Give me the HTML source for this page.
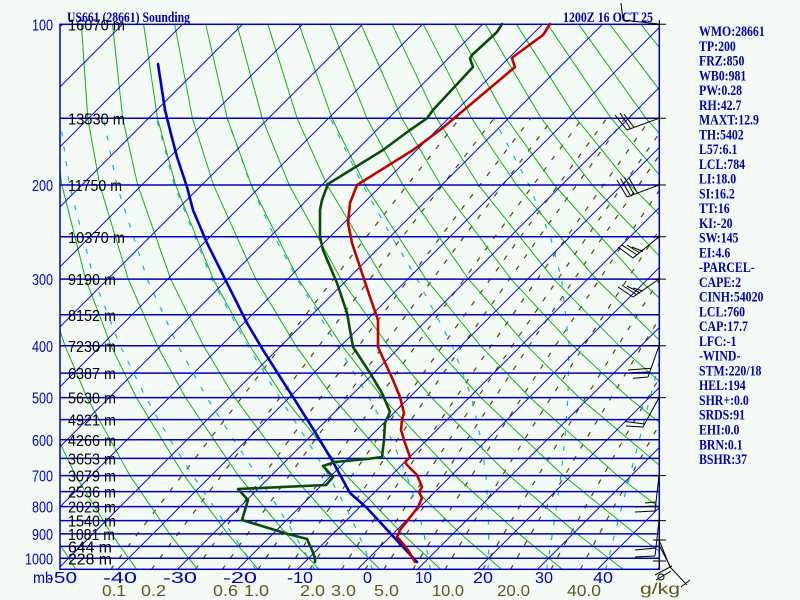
<!DOCTYPE html>
<html><head><meta charset="utf-8">
<style>
html,body{margin:0;padding:0;background:#f4fbf7;}
svg{display:block;}
text{font-family:"Liberation Sans",sans-serif;}
.r{font-family:"Liberation Serif",serif;font-weight:bold;font-size:15px;fill:#0000b0;}
.h{font-family:"Liberation Serif",serif;font-weight:bold;font-size:15px;fill:#0000b0;}
.pl{font-size:16px;fill:#0000c0;}
.hl{font-size:16px;fill:#000;}
.ol{font-size:16px;fill:#5e5618;}
</style></head><body>
<svg width="800" height="600" viewBox="0 0 800 600" xmlns="http://www.w3.org/2000/svg">
<defs><clipPath id="c"><rect x="60" y="24.3" width="599.3" height="545"/></clipPath></defs>
<rect width="800" height="600" fill="#f4fbf7"/>
<g clip-path="url(#c)" fill="none">
 <!-- mixing ratio lines -->
 <g stroke="#4e460c" stroke-width="1.2" stroke-dasharray="5 9">
  <polyline points="110.5,569.6 158.2,506.6 209.2,439.8 281.6,345.8 366.5,236.8 460.0,118.3"/>
  <polyline points="151.4,569.6 198.1,506.6 248.0,439.8 319.0,345.8 402.4,236.8 494.2,118.3"/>
  <polyline points="195.2,569.6 240.7,506.6 289.4,439.8 358.8,345.8 440.5,236.8 530.7,118.3"/>
  <polyline points="222.2,569.6 267.0,506.6 315.0,439.8 383.4,345.8 464.0,236.8 553.0,118.3"/>
  <polyline points="257.9,569.6 301.7,506.6 348.7,439.8 415.8,345.8 494.9,236.8 582.5,118.3"/>
  <polyline points="287.6,569.6 330.5,506.6 376.7,439.8 442.6,345.8 520.5,236.8 606.8,118.3"/>
  <polyline points="309.5,569.6 351.7,506.6 397.3,439.8 462.4,345.8 539.3,236.8 624.7,118.3"/>
  <polyline points="341.4,569.6 382.8,506.6 427.3,439.8 491.1,345.8 566.8,236.8 650.8,118.3"/>
  <polyline points="365.0,569.6 405.6,506.6 449.4,439.8 512.3,345.8 586.9,236.8 669.9,118.3"/>
  <polyline points="383.7,569.6 423.8,506.6 467.0,439.8 529.1,345.8 602.9,236.8 685.0,118.3"/>
  <polyline points="412.8,569.6 452.0,506.6 494.4,439.8 555.3,345.8 627.7,236.8 708.5,118.3"/>
  <polyline points="444.8,569.6 483.0,506.6 524.3,439.8 583.9,345.8 654.9,236.8 734.3,118.3"/>
  <polyline points="482.7,569.6 519.6,506.6 559.7,439.8 617.7,345.8 686.9,236.8"/>
  <polyline points="510.4,569.6 546.5,506.6 585.7,439.8 642.4,345.8 710.3,236.8"/>
  <polyline points="550.8,569.6 585.5,506.6 623.3,439.8 678.2,345.8"/>
  <polyline points="580.2,569.6 613.9,506.6 650.7,439.8 704.3,345.8"/>
 </g>
 <!-- moist adiabats -->
 <g stroke="#10b4d0" stroke-width="1.2" stroke-dasharray="5 10">
  <polyline points="255.9,569.6 248.5,558.3 232.3,533.9 213.6,506.6 192.9,475.6 170.2,439.8 145.8,397.6 120.2,345.8 93.9,279.1 69.4,185 59.8,118.3"/>
  <polyline points="314.5,569.6 308.5,558.3 294.0,533.9 277.4,506.6 257.2,475.6 233.7,439.8 206.9,397.6 177.9,345.8 147.2,279.1 116.8,185 103.5,118.3"/>
  <polyline points="372.4,569.6 368.5,558.3 358.6,533.9 345.7,506.6 328.7,475.6 306.8,439.8 279.6,397.6 247.6,345.8 211.7,279.1 174.4,185 156.5,118.3"/>
  <polyline points="430.2,569.6 428.5,558.3 423.9,533.9 417.0,506.6 406.9,475.6 391.7,439.8 369.0,397.6 337.6,345.8 297.2,279.1 274.5,236.8 250.9,185 227.1,118.3"/>
  <polyline points="488.0,569.6 488.5,558.3 488.7,533.9 488.0,506.6 486.0,475.6 481.0,439.8 471.6,397.6 452.3,345.8 417.0,279.1 391.8,236.8 362.6,185 330.3,118.3"/>
  <polyline points="546.6,569.6 548.5,558.3 552.3,533.9 556.5,506.6 560.9,475.6 564.8,439.8 567.9,397.6 569.0,345.8 561.6,279.1 550.3,236.8 529.1,185 493.6,118.3"/>
  <polyline points="605.6,569.6 608.5,558.3 614.7,533.9 621.8,506.6 629.9,475.6 639.3,439.8 650.2,397.6 663.4,345.8 678.7,279.1"/>
 </g>
 <!-- dry adiabats -->
 <g stroke="#12b012" stroke-width="1">
  <polyline points="76.0,569.6 53.2,533.9 21.5,475.6"/>
  <polyline points="136.8,569.6 111.4,533.9 75.7,475.6 37.8,397.6 18.8,345.8"/>
  <polyline points="197.7,569.6 169.6,533.9 129.9,475.6 87.0,397.6 65.0,345.8 43.1,279.1 24.1,185"/>
  <polyline points="258.5,569.6 227.9,533.9 184.1,475.6 136.3,397.6 111.1,345.8 85.6,279.1 61.9,185 52.9,118.3 50.3,24.3"/>
  <polyline points="319.4,569.6 286.1,533.9 238.3,475.6 185.5,397.6 157.3,345.8 128.2,279.1 99.8,185 87.8,118.3 81.4,24.3"/>
  <polyline points="380.2,569.6 344.3,533.9 292.5,475.6 234.7,397.6 203.5,345.8 170.7,279.1 137.7,185 122.7,118.3 112.5,24.3"/>
  <polyline points="441.0,569.6 402.5,533.9 346.6,475.6 283.9,397.6 249.7,345.8 213.2,279.1 175.6,185 157.5,118.3 143.6,24.3"/>
  <polyline points="501.9,569.6 460.7,533.9 400.8,475.6 333.1,397.6 295.9,345.8 255.8,279.1 213.5,185 192.4,118.3 174.7,24.3"/>
  <polyline points="562.7,569.6 519.0,533.9 455.0,475.6 382.4,397.6 342.0,345.8 298.3,279.1 251.3,185 227.3,118.3 205.7,24.3"/>
  <polyline points="623.6,569.6 577.2,533.9 509.2,475.6 431.6,397.6 388.2,345.8 340.9,279.1 289.2,185 262.2,118.3 236.8,24.3"/>
  <polyline points="684.4,569.6 635.4,533.9 563.4,475.6 480.8,397.6 434.4,345.8 383.4,279.1 327.1,185 297.1,118.3 267.9,24.3"/>
  <polyline points="745.2,569.6 693.6,533.9 617.6,475.6 530.0,397.6 480.6,345.8 425.9,279.1 365.0,185 332.0,118.3 299.0,24.3"/>
  <polyline points="806.1,569.6 751.8,533.9 671.8,475.6 579.2,397.6 526.8,345.8 468.5,279.1 402.9,185 366.9,118.3 330.1,24.3"/>
  <polyline points="866.9,569.6 810.1,533.9 726.0,475.6 628.5,397.6 573.0,345.8 511.0,279.1 440.7,185 401.8,118.3 361.1,24.3"/>
  <polyline points="927.8,569.6 868.3,533.9 780.2,475.6 677.7,397.6 619.1,345.8 553.6,279.1 478.6,185 436.7,118.3 392.2,24.3"/>
  <polyline points="988.6,569.6 926.5,533.9 834.4,475.6 726.9,397.6 665.3,345.8 596.1,279.1 516.5,185 471.6,118.3 423.3,24.3"/>
  <polyline points="1049.4,569.6 984.7,533.9 888.5,475.6 776.1,397.6 711.5,345.8 638.6,279.1 554.4,185 506.4,118.3 454.4,24.3"/>
  <polyline points="1110.3,569.6 1042.9,533.9 942.7,475.6 825.3,397.6 757.7,345.8 681.2,279.1 592.3,185 541.3,118.3 485.5,24.3"/>
  <polyline points="1171.1,569.6 1101.2,533.9 996.9,475.6 874.6,397.6 803.8,345.8 723.7,279.1 630.1,185 576.2,118.3 516.5,24.3"/>
  <polyline points="1231.9,569.6 1159.4,533.9 1051.1,475.6 923.8,397.6 850.0,345.8 766.3,279.1 668.0,185 611.1,118.3 547.6,24.3"/>
  <polyline points="1292.8,569.6 1217.6,533.9 1105.3,475.6 973.0,397.6 896.2,345.8 808.8,279.1 705.9,185 646.0,118.3 578.7,24.3"/>
  <polyline points="1353.6,569.6 1275.8,533.9 1159.5,475.6 1022.2,397.6 942.4,345.8 851.3,279.1 743.8,185 680.9,118.3 609.8,24.3"/>
  <polyline points="1414.5,569.6 1334.0,533.9 1213.7,475.6 1071.4,397.6 988.6,345.8 893.9,279.1 781.7,185 715.8,118.3 640.9,24.3"/>
  <polyline points="1475.3,569.6 1392.3,533.9 1267.9,475.6 1120.7,397.6 1034.7,345.8 936.4,279.1 819.5,185 750.7,118.3 671.9,24.3"/>
 </g>
 <!-- isotherms -->
 <g stroke="#0000e0" stroke-width="1">
  <line x1="-482.5" y1="569.3" x2="62.5" y2="24.3"/>
  <line x1="-422.5" y1="569.3" x2="122.5" y2="24.3"/>
  <line x1="-362.5" y1="569.3" x2="182.5" y2="24.3"/>
  <line x1="-302.5" y1="569.3" x2="242.5" y2="24.3"/>
  <line x1="-242.5" y1="569.3" x2="302.5" y2="24.3"/>
  <line x1="-182.5" y1="569.3" x2="362.5" y2="24.3"/>
  <line x1="-122.5" y1="569.3" x2="422.5" y2="24.3"/>
  <line x1="-62.5" y1="569.3" x2="482.5" y2="24.3"/>
  <line x1="-2.5" y1="569.3" x2="542.5" y2="24.3"/>
  <line x1="57.5" y1="569.3" x2="602.5" y2="24.3"/>
  <line x1="117.5" y1="569.3" x2="662.5" y2="24.3"/>
  <line x1="177.5" y1="569.3" x2="722.5" y2="24.3"/>
  <line x1="237.5" y1="569.3" x2="782.5" y2="24.3"/>
  <line x1="297.5" y1="569.3" x2="842.5" y2="24.3"/>
  <line x1="357.5" y1="569.3" x2="902.5" y2="24.3"/>
  <line x1="417.5" y1="569.3" x2="962.5" y2="24.3"/>
  <line x1="477.5" y1="569.3" x2="1022.5" y2="24.3"/>
  <line x1="537.5" y1="569.3" x2="1082.5" y2="24.3"/>
  <line x1="597.5" y1="569.3" x2="1142.5" y2="24.3"/>
  <line x1="657.5" y1="569.3" x2="1202.5" y2="24.3"/>
 </g>
</g>
<g stroke="#0000c0" stroke-width="1.5">
 <line x1="60" y1="118.3" x2="659.3" y2="118.3"/>
 <line x1="60" y1="185" x2="659.3" y2="185"/>
 <line x1="60" y1="236.8" x2="659.3" y2="236.8"/>
 <line x1="60" y1="279.1" x2="659.3" y2="279.1"/>
 <line x1="60" y1="314.8" x2="659.3" y2="314.8"/>
 <line x1="60" y1="345.8" x2="659.3" y2="345.8"/>
 <line x1="60" y1="373.1" x2="659.3" y2="373.1"/>
 <line x1="60" y1="397.6" x2="659.3" y2="397.6"/>
 <line x1="60" y1="419.6" x2="659.3" y2="419.6"/>
 <line x1="60" y1="439.8" x2="659.3" y2="439.8"/>
 <line x1="60" y1="458.4" x2="659.3" y2="458.4"/>
 <line x1="60" y1="475.6" x2="659.3" y2="475.6"/>
 <line x1="60" y1="491.6" x2="659.3" y2="491.6"/>
 <line x1="60" y1="506.6" x2="659.3" y2="506.6"/>
 <line x1="60" y1="520.6" x2="659.3" y2="520.6"/>
 <line x1="60" y1="533.9" x2="659.3" y2="533.9"/>
 <line x1="60" y1="546.4" x2="659.3" y2="546.4"/>
 <line x1="60" y1="558.3" x2="659.3" y2="558.3"/>
</g>
<rect x="60" y="24.3" width="599.3" height="545" fill="none" stroke="#0000c0" stroke-width="1.5"/>

<!-- pressure labels -->
<g class="pl">
 <text x="32" y="30.3" textLength="21" lengthAdjust="spacingAndGlyphs">100</text>
 <text x="32" y="191" textLength="21" lengthAdjust="spacingAndGlyphs">200</text>
 <text x="32" y="285.1" textLength="21" lengthAdjust="spacingAndGlyphs">300</text>
 <text x="32" y="351.8" textLength="21" lengthAdjust="spacingAndGlyphs">400</text>
 <text x="32" y="403.6" textLength="21" lengthAdjust="spacingAndGlyphs">500</text>
 <text x="32" y="445.8" textLength="21" lengthAdjust="spacingAndGlyphs">600</text>
 <text x="32" y="481.6" textLength="21" lengthAdjust="spacingAndGlyphs">700</text>
 <text x="32" y="512.6" textLength="21" lengthAdjust="spacingAndGlyphs">800</text>
 <text x="32" y="539.9" textLength="21" lengthAdjust="spacingAndGlyphs">900</text>
 <text x="25" y="564.3" textLength="28" lengthAdjust="spacingAndGlyphs">1000</text>
</g>
<!-- height labels -->
<g class="hl">
 <text x="68" y="30.3" textLength="57" lengthAdjust="spacingAndGlyphs">16070 m</text>
 <text x="68" y="124.3" textLength="57" lengthAdjust="spacingAndGlyphs">13530 m</text>
 <text x="68" y="191" textLength="54" lengthAdjust="spacingAndGlyphs">11750 m</text>
 <text x="68" y="242.8" textLength="57" lengthAdjust="spacingAndGlyphs">10370 m</text>
 <text x="68" y="285.1" textLength="48" lengthAdjust="spacingAndGlyphs">9190 m</text>
 <text x="68" y="320.8" textLength="48" lengthAdjust="spacingAndGlyphs">8152 m</text>
 <text x="68" y="351.8" textLength="48" lengthAdjust="spacingAndGlyphs">7230 m</text>
 <text x="68" y="379.1" textLength="48" lengthAdjust="spacingAndGlyphs">6387 m</text>
 <text x="68" y="403.6" textLength="48" lengthAdjust="spacingAndGlyphs">5630 m</text>
 <text x="68" y="425.6" textLength="48" lengthAdjust="spacingAndGlyphs">4921 m</text>
 <text x="68" y="445.8" textLength="48" lengthAdjust="spacingAndGlyphs">4266 m</text>
 <text x="68" y="464.4" textLength="48" lengthAdjust="spacingAndGlyphs">3653 m</text>
 <text x="68" y="481.6" textLength="48" lengthAdjust="spacingAndGlyphs">3079 m</text>
 <text x="68" y="497.6" textLength="48" lengthAdjust="spacingAndGlyphs">2536 m</text>
 <text x="68" y="512.6" textLength="48" lengthAdjust="spacingAndGlyphs">2023 m</text>
 <text x="68" y="526.6" textLength="48" lengthAdjust="spacingAndGlyphs">1540 m</text>
 <text x="68" y="539.9" textLength="47" lengthAdjust="spacingAndGlyphs">1081 m</text>
 <text x="68" y="552.4" textLength="44" lengthAdjust="spacingAndGlyphs">644 m</text>
 <text x="68" y="564.3" textLength="44" lengthAdjust="spacingAndGlyphs">228 m</text>
</g>
<!-- temperature labels -->
<g class="pl">
 <text x="33" y="583" textLength="20" lengthAdjust="spacingAndGlyphs">mb</text>
 <text x="47" y="583" textLength="30" lengthAdjust="spacingAndGlyphs">-50</text>
 <text x="103" y="583" textLength="34" lengthAdjust="spacingAndGlyphs">-40</text>
 <text x="163" y="583" textLength="34" lengthAdjust="spacingAndGlyphs">-30</text>
 <text x="223" y="583" textLength="34" lengthAdjust="spacingAndGlyphs">-20</text>
 <text x="287" y="583" textLength="26" lengthAdjust="spacingAndGlyphs">-10</text>
 <text x="363" y="583" textLength="9" lengthAdjust="spacingAndGlyphs">0</text>
 <text x="415" y="583" textLength="17" lengthAdjust="spacingAndGlyphs">10</text>
 <text x="473" y="583" textLength="20" lengthAdjust="spacingAndGlyphs">20</text>
 <text x="535" y="583" textLength="18" lengthAdjust="spacingAndGlyphs">30</text>
 <text x="593" y="583" textLength="20" lengthAdjust="spacingAndGlyphs">40</text>
</g>
<!-- mixing ratio labels -->
<g class="ol">
 <text x="102" y="596" textLength="24" lengthAdjust="spacingAndGlyphs">0.1</text>
 <text x="141" y="596" textLength="25" lengthAdjust="spacingAndGlyphs">0.2</text>
 <text x="213" y="596" textLength="25" lengthAdjust="spacingAndGlyphs">0.6</text>
 <text x="244" y="596" textLength="25" lengthAdjust="spacingAndGlyphs">1.0</text>
 <text x="300" y="596" textLength="25" lengthAdjust="spacingAndGlyphs">2.0</text>
 <text x="331" y="596" textLength="25" lengthAdjust="spacingAndGlyphs">3.0</text>
 <text x="374" y="596" textLength="25" lengthAdjust="spacingAndGlyphs">5.0</text>
 <text x="432" y="596" textLength="32" lengthAdjust="spacingAndGlyphs">10.0</text>
 <text x="497" y="596" textLength="33" lengthAdjust="spacingAndGlyphs">20.0</text>
 <text x="567" y="596" textLength="34" lengthAdjust="spacingAndGlyphs">40.0</text>
 <text x="640" y="594" textLength="40" lengthAdjust="spacingAndGlyphs">g/kg</text>
</g>
<!-- headers -->
<text class="h" x="67" y="22" textLength="123" lengthAdjust="spacingAndGlyphs">US661 (28661) Sounding</text>
<text class="h" x="563" y="22" textLength="90" lengthAdjust="spacingAndGlyphs">1200Z 16 OCT 25</text>

<!-- right text -->
<g transform="translate(699 0) scale(0.79 1)">
 <text class="r" x="0" y="36">WMO:28661</text>
 <text class="r" x="0" y="50.76">TP:200</text>
 <text class="r" x="0" y="65.52">FRZ:850</text>
 <text class="r" x="0" y="80.28">WB0:981</text>
 <text class="r" x="0" y="95.04">PW:0.28</text>
 <text class="r" x="0" y="109.8">RH:42.7</text>
 <text class="r" x="0" y="124.56">MAXT:12.9</text>
 <text class="r" x="0" y="139.32">TH:5402</text>
 <text class="r" x="0" y="154.08">L57:6.1</text>
 <text class="r" x="0" y="168.84">LCL:784</text>
 <text class="r" x="0" y="183.6">LI:18.0</text>
 <text class="r" x="0" y="198.36">SI:16.2</text>
 <text class="r" x="0" y="213.12">TT:16</text>
 <text class="r" x="0" y="227.88">KI:-20</text>
 <text class="r" x="0" y="242.64">SW:145</text>
 <text class="r" x="0" y="257.4">EI:4.6</text>
 <text class="r" x="0" y="272.16">-PARCEL-</text>
 <text class="r" x="0" y="286.92">CAPE:2</text>
 <text class="r" x="0" y="301.68">CINH:54020</text>
 <text class="r" x="0" y="316.44">LCL:760</text>
 <text class="r" x="0" y="331.2">CAP:17.7</text>
 <text class="r" x="0" y="345.96">LFC:-1</text>
 <text class="r" x="0" y="360.72">-WIND-</text>
 <text class="r" x="0" y="375.48">STM:220/18</text>
 <text class="r" x="0" y="390.24">HEL:194</text>
 <text class="r" x="0" y="405">SHR+:0.0</text>
 <text class="r" x="0" y="419.76">SRDS:91</text>
 <text class="r" x="0" y="434.52">EHI:0.0</text>
 <text class="r" x="0" y="449.28">BRN:0.1</text>
 <text class="r" x="0" y="464.04">BSHR:37</text>
</g>

<!-- profiles -->
<g fill="none" stroke-width="2.6" stroke-linejoin="round" stroke-linecap="round">
 <polyline stroke="#0000c0" points="158,64 165,110 170,130 177,157 187,187 193,210 207,243 227,283 247,323 263,350 282,380 293,397 315,432 333,462 350,493 367,508 390,533 417,562"/>
 <polyline stroke="#0a4a0a" points="502,24 497,32 472,55 470,58.3 473,67 433,110 427,118.3 410,130 383,150 328,184 322,200 320,210 320,237 323,250 337,283 347,313 353,347 357,353 370,373 382,393 390,412 385,423 384,440 382,457 367,459 335,462 323,466 333,477 326,485 238,489 248,500 242,520 288,534 307,539 312,550 315,558 315,562"/>
 <polyline stroke="#c00000" points="550,24 545,32 543,35 513,57 512,58.5 515,67 450,121.7 440,130 413,150 357,185 350,203 348,223 352,243 360,267 370,297 378,320 378,347 387,367 393,380 400,397 404,413 402,420 401,430 405,443 410,457 405,462 407,465 417,475 422,487 419,492 422,498 418,507 408,520 400,530 397,537 400,540 408,550 415,562"/>
</g>

<!-- wind barbs / ticks -->
<g fill="none" stroke="#000" stroke-width="1">
 <path d="M653 24.3H666M659.3 20V28.5"/>
 <path d="M653 118.3H666M659.3 114V122.5"/>
 <path d="M653 185H666M659.3 181V189"/>
 <path d="M653 236.8H666M659.3 232.8V240.8"/>
 <path d="M653 279.1H666M659.3 275V283"/>
 <path d="M653 345.8H666M659.3 341.8V349.8"/>
 <path d="M653 397.6H666M659.3 393.6V401.6"/>
 <path d="M653 475.6H666M659.3 471.6V479.6"/>
 <path d="M653 520.6H666M659.3 516.6V524.6"/>
 <path d="M653 540H666M659.3 536V544"/>
 <path d="M653 561H666M659.3 557V565"/>

 <path d="M659 24L623 20L621 3"/>
 <path d="M659 118.3L627 130M627 130L615 115M630.5 128.7L620 113M634 127.4L624 114"/>
 <path d="M659 185L627 197M627 197L617 180M630.5 195.6L620.5 178.5M634 194.3L624.5 177.5M637.5 193L629 178"/>
 <path d="M659 236.8L633 258M633 258L618 247M637 255L622 245M640 253L627 245M643 251.5L632 247"/>
 <path d="M659 279.1L633 297M633 297L618 287M637 295L622 285M640 293L627 286M643 291L633 288"/>
 <path d="M659 345.8L648 377M648 377L633 378.3M649.5 372L630 372.7M651 368.3L628 370"/>
 <path d="M659 397.6L643 427M643 427L626 426M644.5 424L625 421.5"/>
 <path d="M659 475.6L655 511M655 511L635 512M655.5 506L635 507M656 502L645 503"/>
 <path d="M659 520.6L655 556M655 556L635 557M655.5 548L635 550"/>
 <path d="M659 540L670 567L687 585M681 587L690 580M659 545L671 568M655 575L672 566M656 580L671 571"/>
 <circle cx="661" cy="577" r="3"/>
</g>
</svg>
</body></html>
